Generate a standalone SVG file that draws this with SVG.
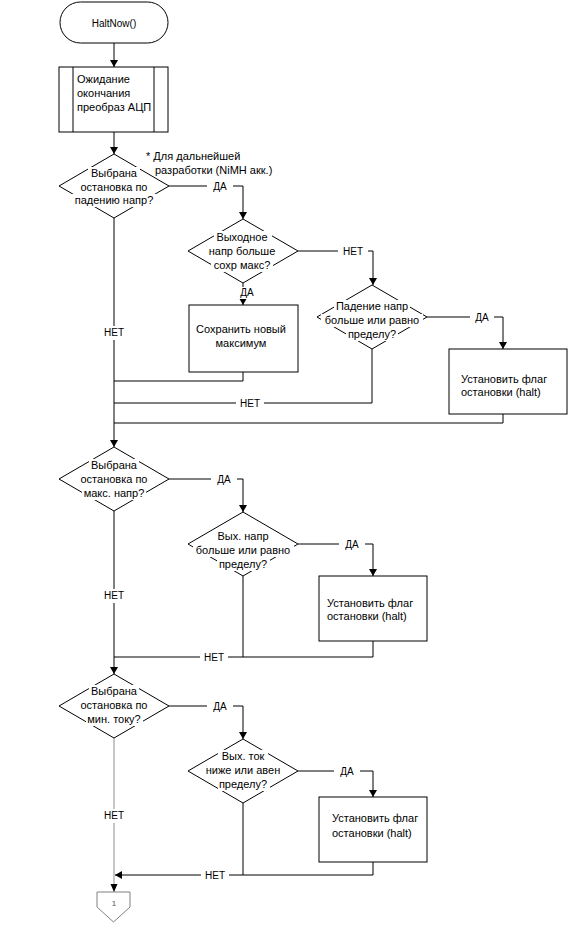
<svg xmlns="http://www.w3.org/2000/svg" width="582" height="928" viewBox="0 0 582 928">
<style>
.ln{fill:none;stroke:#000;stroke-width:1}
.gr{fill:none;stroke:#a0a0a0;stroke-width:1.2}
.sh{fill:#fff;stroke:#000;stroke-width:1}
.bg{fill:#fff;stroke:none}
.t{font-family:"Liberation Sans",Arial,sans-serif;font-size:11px;fill:#000}
.c{text-anchor:middle}
.lb{font-family:"Liberation Sans",Arial,sans-serif;font-size:10px;fill:#000;text-anchor:middle}
</style>
<defs>
<marker id="ar" markerUnits="userSpaceOnUse" markerWidth="8" markerHeight="8" refX="7" refY="4" orient="auto">
<path d="M0,0 L7,4 L0,8 z" fill="#000"/>
</marker>
</defs>
<rect width="582" height="928" fill="#fff"/>

<g id="connectors">
<path class="ln" d="M114,43 V67" marker-end="url(#ar)"/>
<path class="ln" d="M114,132 V154" marker-end="url(#ar)"/>
<path class="ln" d="M169,186 H243 V219" marker-end="url(#ar)"/>
<path class="ln" d="M114,218 V447" marker-end="url(#ar)"/>
<path class="ln" d="M298,251 H373 V285" marker-end="url(#ar)"/>
<path class="ln" d="M243,283 V305" marker-end="url(#ar)"/>
<path class="ln" d="M427,317 H503 V349" marker-end="url(#ar)"/>
<path class="ln" d="M243,372 V381 H114"/>
<path class="ln" d="M372,349 V403 H114"/>
<path class="ln" d="M503,414 V423 H114"/>
<path class="ln" d="M169,479 H243 V512" marker-end="url(#ar)"/>
<path class="ln" d="M114,511 V674" marker-end="url(#ar)"/>
<path class="ln" d="M298,544 H373 V576" marker-end="url(#ar)"/>
<path class="ln" d="M373,641 V657 H114"/>
<path class="ln" d="M243,576 V657"/>
<path class="ln" d="M169,706 H243 V739" marker-end="url(#ar)"/>
<path class="ln" d="M298,771 H373 V797" marker-end="url(#ar)"/>
<path class="ln" d="M373,862 V875 H115" marker-end="url(#ar)"/>
<path class="ln" d="M243,803 V875"/>
<path class="gr" d="M114,738 V892"/>
<path d="M110.5,884 L114,892 L117.5,884 z" fill="#000"/>

<rect class="bg" x="207" y="180" width="26" height="13"/>
<text class="lb" x="220" y="190">ДА</text>
<rect class="bg" x="102" y="326" width="24" height="14"/>
<text class="lb" x="114" y="336">НЕТ</text>
<rect class="bg" x="338" y="245" width="30" height="13"/>
<text class="lb" x="353" y="255">НЕТ</text>
<rect class="bg" x="239" y="287" width="16" height="12"/>
<text class="lb" x="247" y="296">ДА</text>
<rect class="bg" x="470" y="311" width="24" height="13"/>
<text class="lb" x="482" y="321">ДА</text>
<rect class="bg" x="236" y="397" width="28" height="13"/>
<text class="lb" x="250" y="407">НЕТ</text>
<rect class="bg" x="211" y="473" width="26" height="13"/>
<text class="lb" x="224" y="483">ДА</text>
<rect class="bg" x="102" y="589" width="24" height="14"/>
<text class="lb" x="114" y="599">НЕТ</text>
<rect class="bg" x="339" y="538" width="26" height="13"/>
<text class="lb" x="352" y="548">ДА</text>
<rect class="bg" x="200" y="651" width="28" height="13"/>
<text class="lb" x="214" y="661">НЕТ</text>
<rect class="bg" x="207" y="700" width="26" height="13"/>
<text class="lb" x="220" y="710">ДА</text>
<rect class="bg" x="102" y="809" width="24" height="14"/>
<text class="lb" x="114" y="819">НЕТ</text>
<rect class="bg" x="334" y="765" width="26" height="13"/>
<text class="lb" x="347" y="775">ДА</text>
<rect class="bg" x="201" y="869" width="28" height="13"/>
<text class="lb" x="215" y="879">НЕТ</text>
</g>

<g id="start">
<rect class="sh" x="60" y="2" width="108" height="41" rx="20.5"/>
<text class="lb" x="114" y="27">HaltNow()</text>
</g>

<g id="wait_adc">
<rect class="sh" x="59" y="67" width="109" height="65"/>
<path class="ln" d="M73,67 V132 M154,67 V132"/>
<text class="t" x="77" y="83">Ожидание</text>
<text class="t" x="77" y="97">окончания</text>
<text class="t" x="77" y="111">преобраз АЦП</text>
</g>

<g id="note">
<text class="t" x="146" y="160">* Для дальнейшей</text>
<text class="t" x="155" y="174">разработки (NiMH акк.)</text>
</g>

<g id="dec_drop_sel">
<polygon class="sh" points="114,154 169,186 114,218 59,186"/>
<rect class="bg" x="88" y="167" width="52" height="13"/>
<rect class="bg" x="77" y="181" width="74" height="13"/>
<rect class="bg" x="72" y="194" width="84" height="13"/>
<text class="t c" x="114" y="177">Выбрана</text>
<text class="t c" x="114" y="191">остановка по</text>
<text class="t c" x="114" y="204">падению напр?</text>
</g>

<g id="dec_out_max">
<polygon class="sh" points="243,219 298,251 243,283 188,251"/>
<rect class="bg" x="214" y="231" width="58" height="13"/>
<rect class="bg" x="206" y="245" width="72" height="13"/>
<rect class="bg" x="211" y="259" width="62" height="13"/>
<text class="t c" x="242" y="241">Выходное</text>
<text class="t c" x="242" y="255">напр больше</text>
<text class="t c" x="242" y="269">сохр макс?</text>
</g>

<g id="save_max">
<rect class="sh" x="189" y="305" width="109" height="67"/>
<text class="t c" x="241" y="333">Сохранить новый</text>
<text class="t c" x="241" y="347">максимум</text>
</g>

<g id="dec_drop_lim">
<polygon class="sh" points="372,285 427,317 372,349 317,317"/>
<rect class="bg" x="334" y="300" width="76" height="13"/>
<rect class="bg" x="321" y="314" width="102" height="13"/>
<rect class="bg" x="346" y="328" width="52" height="13"/>
<text class="t c" x="372" y="310">Падение напр</text>
<text class="t c" x="372" y="324">больше или равно</text>
<text class="t c" x="372" y="338">пределу?</text>
</g>

<g id="set_halt_1">
<rect class="sh" x="449" y="349" width="118" height="65"/>
<text class="t" x="461" y="383">Установить флаг</text>
<text class="t" x="461" y="396">остановки (halt)</text>
</g>

<g id="dec_max_sel">
<polygon class="sh" points="114,447 169,479 114,511 59,479"/>
<rect class="bg" x="89" y="459" width="50" height="13"/>
<rect class="bg" x="79" y="473" width="71" height="13"/>
<rect class="bg" x="82" y="487" width="64" height="13"/>
<text class="t c" x="114" y="469">Выбрана</text>
<text class="t c" x="114" y="483">остановка по</text>
<text class="t c" x="114" y="497">макс. напр?</text>
</g>

<g id="dec_out_lim">
<polygon class="sh" points="243,512 298,544 243,576 188,544"/>
<rect class="bg" x="216" y="530" width="55" height="13"/>
<rect class="bg" x="193" y="544" width="101" height="13"/>
<rect class="bg" x="217" y="558" width="53" height="13"/>
<text class="t c" x="243" y="540">Вых. напр</text>
<text class="t c" x="243" y="554">больше или равно</text>
<text class="t c" x="243" y="568">пределу?</text>
</g>

<g id="set_halt_2">
<rect class="sh" x="319" y="576" width="108" height="65"/>
<text class="t" x="327" y="607">Установить флаг</text>
<text class="t" x="327" y="620">остановки (halt)</text>
</g>

<g id="dec_min_sel">
<polygon class="sh" points="114,674 169,706 114,738 59,706"/>
<rect class="bg" x="89" y="685" width="50" height="13"/>
<rect class="bg" x="79" y="699" width="71" height="13"/>
<rect class="bg" x="86" y="713" width="57" height="13"/>
<text class="t c" x="114" y="695">Выбрана</text>
<text class="t c" x="114" y="709">остановка по</text>
<text class="t c" x="114" y="723">мин. току?</text>
</g>

<g id="dec_cur_lim">
<polygon class="sh" points="243,739 298,771 243,803 188,771"/>
<rect class="bg" x="218" y="750" width="50" height="13"/>
<rect class="bg" x="204" y="764" width="79" height="13"/>
<rect class="bg" x="218" y="778" width="52" height="13"/>
<text class="t c" x="243" y="760">Вых. ток</text>
<text class="t c" x="243" y="774">ниже или авен</text>
<text class="t c" x="243" y="788">пределу?</text>
</g>

<g id="set_halt_3">
<rect class="sh" x="319" y="797" width="108" height="65"/>
<text class="t" x="332" y="822">Установить флаг</text>
<text class="t" x="332" y="837">остановки (halt)</text>
</g>

<g id="offpage_1">
<polygon points="97,892 130,892 130,907 113.5,922 97,907" fill="#fff" stroke="#808080" stroke-width="1"/>
<text x="114" y="906" font-family="Liberation Sans, Arial, sans-serif" font-size="8" fill="#555" text-anchor="middle">1</text>
</g>
</svg>
